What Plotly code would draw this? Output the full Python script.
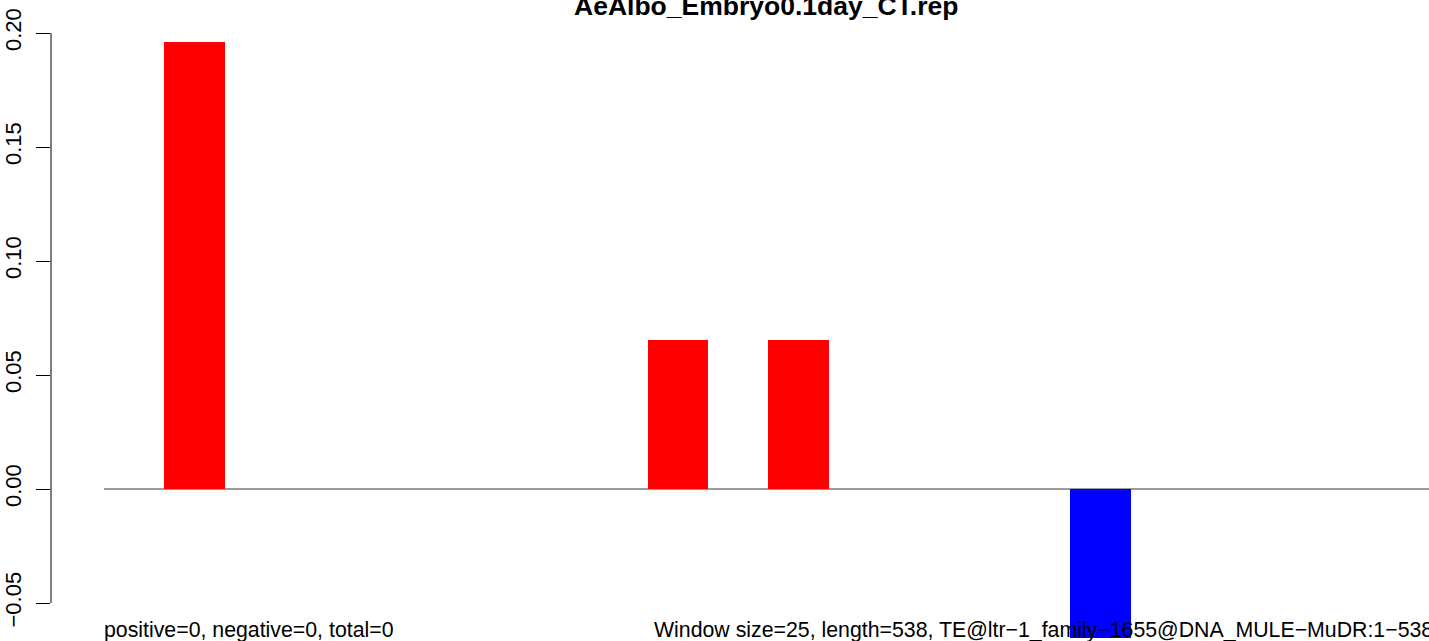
import plotly.graph_objects as go

# ---- data ----
slots = list(range(0, 21))
values = [0.196, 0, 0, 0, 0, 0, 0, 0, 0.0654, 0, 0.0654,
          0, 0, 0, 0, -0.0654, 0, 0, 0, 0, 0]
tick_vals = [-0.05, 0.0, 0.05, 0.10, 0.15, 0.20]
tick_text = ["\u22120.05", "0.00", "0.05", "0.10", "0.15", "0.20"]
title_text = "AeAlbo_Embryo0.1day_CT.rep"
left_note = "positive=0, negative=0, total=0"
right_note = ("Window size=25, length=538, TE@ltr\u22121_family\u22121655@DNA_MULE\u2212MuDR:1\u2212538")

colors = ["#FF0000" if v >= 0 else "#0000FF" for v in values]

W, H = 1429, 641
ML = 51
FONT = "Liberation Sans, Arial, Helvetica, sans-serif"

fig = go.Figure()
fig.add_trace(go.Bar(x=slots, y=values, width=1.0,
                     marker=dict(color=colors, line=dict(width=0)),
                     hoverinfo="skip"))

px_per_unit = 60.4
xl = -(194.5 - ML) / px_per_unit
xr = xl + (W - ML) / px_per_unit
ypx0 = 489.0
py_per_unit = 2280.0
ytop = ypx0 / py_per_unit
ybot = -(H - ypx0) / py_per_unit

fig.update_layout(
    width=W, height=H,
    margin=dict(l=ML, r=0, t=0, b=0, pad=0),
    paper_bgcolor="white", plot_bgcolor="white",
    showlegend=False,
    bargap=0,
    xaxis=dict(visible=False, range=[xl, xr], fixedrange=True),
    yaxis=dict(range=[ybot, ytop], showgrid=False, zeroline=False,
               showline=False, ticks="outside", ticklen=14, tickwidth=1,
               tickcolor="black", tickvals=tick_vals, ticktext=tick_text,
               tickangle=-90, ticklabelstandoff=6,
               tickfont=dict(family=FONT, size=22, color="black"),
               fixedrange=True),
    shapes=[
        dict(type="line", xref="x", yref="y", x0=-1.5, x1=xr + 5, y0=0, y1=0,
             line=dict(color="#7a7a7a", width=1.3), layer="below"),
        dict(type="line", xref="paper", yref="y", x0=0, x1=0, y0=-0.05, y1=0.20,
             line=dict(color="black", width=1)),
    ],
    annotations=[
        dict(text="<b>" + title_text + "</b>", xref="paper", yref="paper",
             x=(766 - ML) / (W - ML), y=1, xanchor="center", yanchor="bottom",
             yshift=-23, showarrow=False,
             font=dict(family=FONT, size=26.5, color="black")),
        dict(text=left_note, xref="paper", yref="paper",
             x=(102 - ML) / (W - ML), y=0, xanchor="left", yanchor="bottom",
             yshift=-3, showarrow=False,
             font=dict(family=FONT, size=21.3, color="black")),
        dict(text=right_note, xref="paper", yref="paper",
             x=(652 - ML) / (W - ML), y=0, xanchor="left", yanchor="bottom",
             yshift=-3, showarrow=False,
             font=dict(family=FONT, size=21.3, color="black")),
    ],
)

fig.write_html("out.html", config={"displayModeBar": False},
               post_script="document.body.style.margin='0';document.body.style.overflow='hidden';")
